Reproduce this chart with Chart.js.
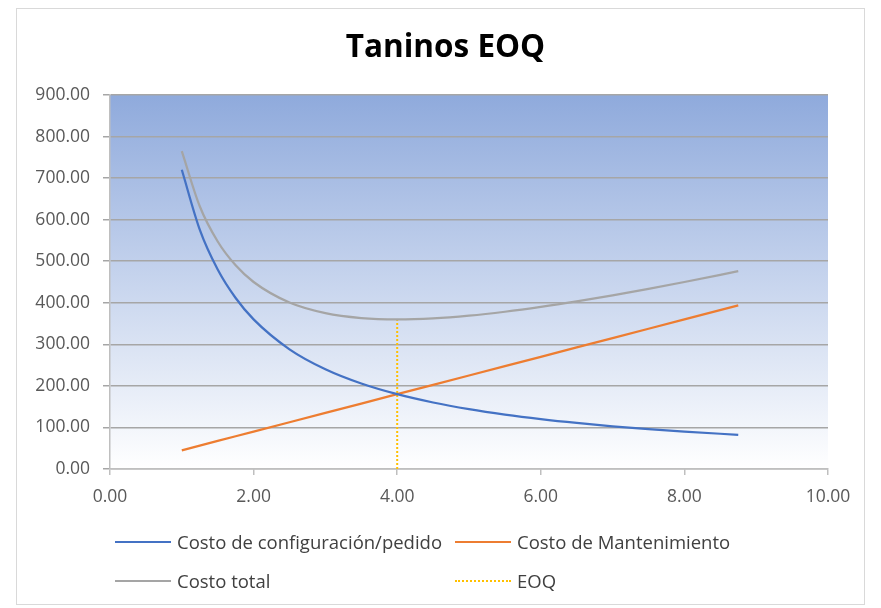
<!DOCTYPE html>
<html>
<head>
<meta charset="utf-8">
<script src="https://cdn.jsdelivr.net/npm/chart.js@4.4.1/dist/chart.umd.min.js"></script>
<style>
  body { margin: 0; background: #fff; }
  #wrap { position: relative; width: 881px; height: 608px; }
  #frame { position: absolute; left: 16px; top: 8px; width: 849px; height: 597px; border: 1px solid #d9d9d9; box-sizing: border-box; pointer-events: none; }
  #title { position: absolute; left: 5px; top: 23px; width: 881px; text-align: center; font-family: "Open Sans", sans-serif; font-weight: bold; font-size: 31.5px; line-height: 44px; color: #000; }
  .leg { position: absolute; font-family: "Open Sans", sans-serif; font-size: 18.5px; line-height: 26px; color: #404040; display: flex; align-items: center; white-space: nowrap; }
  .leg i { display: inline-block; width: 56px; height: 0; margin-right: 6px; }
</style>
</head>
<body>
<div id="wrap">
  <canvas id="eoqChart" width="881" height="608"></canvas>
  <div id="frame"></div>
  <div id="title">Taninos EOQ</div>
  <div class="leg" style="left:115px; top:529px;"><i style="border-top:2px solid #4472C4"></i>Costo de configuración/pedido</div>
  <div class="leg" style="left:455px; top:529px;"><i style="border-top:2px solid #ED7D31"></i>Costo de Mantenimiento</div>
  <div class="leg" style="left:115px; top:568px;"><i style="border-top:2px solid #A5A5A5"></i>Costo total</div>
  <div class="leg" style="left:455px; top:568px;"><i style="border-top:2px dotted #FFC000"></i>EOQ</div>
</div>
<script>
// Order quantity (x) and cost curves
const quantities = [1, 1.25, 1.5, 1.75, 2, 2.5, 3, 3.5, 4, 4.5, 5, 5.5, 6, 6.5, 7, 7.5, 8, 8.75];
const setupCost = [720, 576, 480, 411.43, 360, 288, 240, 205.71, 180, 160, 144, 130.91, 120, 110.77, 102.86, 96, 90, 82.29];
const holdingCost = [45, 56.25, 67.5, 78.75, 90, 112.5, 135, 157.5, 180, 202.5, 225, 247.5, 270, 292.5, 315, 337.5, 360, 393.75];
const totalCost = [765, 632.25, 547.5, 490.18, 450, 400.5, 375, 363.21, 360, 362.5, 369, 378.41, 390, 403.27, 417.86, 433.5, 450, 476.04];
const eoqX = [4, 4];
const eoqY = [0, 360];

const toPoints = (xs, ys) => xs.map((x, i) => ({ x: x, y: ys[i] }));

// Gradient fill behind the plot area
const plotBackground = {
  id: 'plotBackground',
  beforeDraw(chart) {
    const { ctx, chartArea: a } = chart;
    const grad = ctx.createLinearGradient(0, a.top, 0, a.bottom);
    grad.addColorStop(0, '#8FAADC');
    grad.addColorStop(1, '#FFFFFF');
    ctx.save();
    ctx.fillStyle = grad;
    ctx.fillRect(a.left, a.top, a.right - a.left, a.bottom - a.top);
    ctx.restore();
  }
};

const tickFont = { family: '"Open Sans", sans-serif', size: 17.5 };

new Chart(document.getElementById('eoqChart').getContext('2d'), {
  type: 'line',
  data: {
    datasets: [
      { label: 'Costo de configuración/pedido', data: toPoints(quantities, setupCost), borderColor: '#4472C4', borderWidth: 2.25, pointRadius: 0, cubicInterpolationMode: 'monotone' },
      { label: 'Costo de Mantenimiento', data: toPoints(quantities, holdingCost), borderColor: '#ED7D31', borderWidth: 2.25, pointRadius: 0 },
      { label: 'Costo total', data: toPoints(quantities, totalCost), borderColor: '#A5A5A5', borderWidth: 2.25, pointRadius: 0, cubicInterpolationMode: 'monotone' },
      { label: 'EOQ', data: toPoints(eoqX, eoqY), borderColor: '#FFC000', borderWidth: 2, borderDash: [2, 2], pointRadius: 0 }
    ]
  },
  options: {
    responsive: false,
    animation: false,
    layout: { padding: { top: 95, left: 0, right: 53, bottom: 99 } },
    plugins: {
      legend: { display: false },
      tooltip: { enabled: false },
      title: { display: false }
    },
    scales: {
      x: {
        type: 'linear',
        min: 0,
        max: 10,
        ticks: { stepSize: 2, color: '#595959', font: tickFont, padding: 12, callback: v => v.toFixed(2) },
        grid: { display: true, drawOnChartArea: false, drawTicks: true, tickLength: 6, color: '#BFBFBF', lineWidth: 1.5 },
        border: { color: '#BFBFBF', width: 1.5 },
        afterFit: s => { s.height = 40; }
      },
      y: {
        min: 0,
        max: 900,
        ticks: { stepSize: 100, color: '#595959', font: tickFont, padding: 13, callback: v => v.toFixed(2) },
        grid: { color: '#A6A6A6', lineWidth: 1.5, tickLength: 7 },
        border: { color: '#BFBFBF', width: 1.5 },
        afterFit: s => { s.width = 110; }
      }
    }
  },
  plugins: [plotBackground]
});
</script>
</body>
</html>
